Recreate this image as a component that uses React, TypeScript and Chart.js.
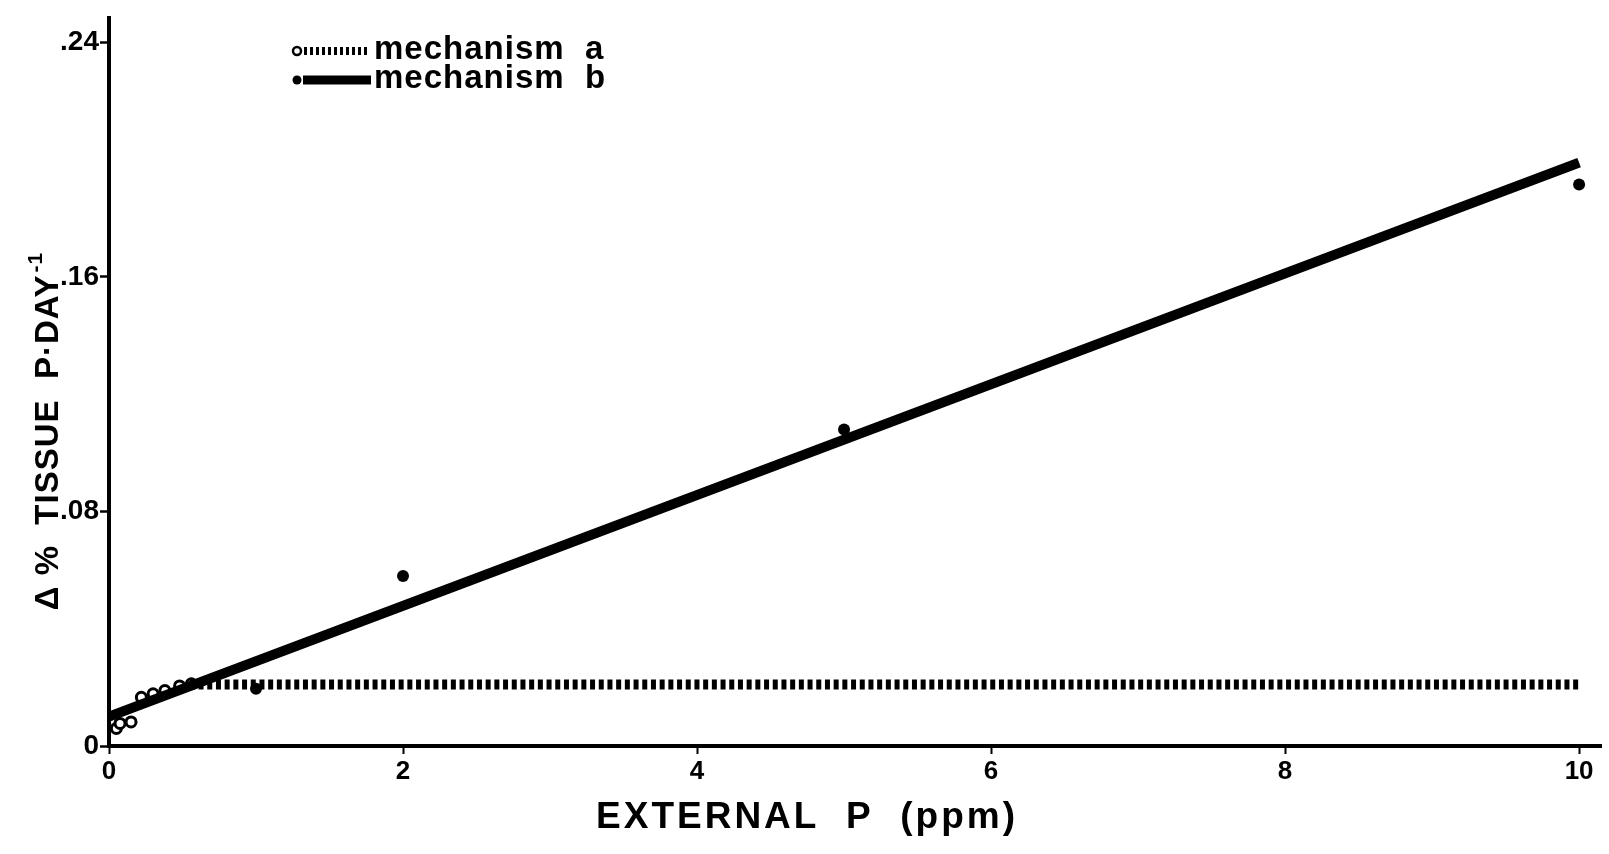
import React, { useEffect, useRef } from "react";
import { Chart, registerables } from "chart.js";

Chart.register(...registerables);

// ---- data ----
const xTickValues = [0, 2, 4, 6, 8, 10];
const xTickLabels = ["0", "2", "4", "6", "8", "10"];
const yTickValues = [0, 0.08, 0.16, 0.24];
const yTickLabels = ["0", ".08", ".16", ".24"];

// mechanism a: open-circle observations and the dotted plateau curve
const aPointX = [0.05, 0.075, 0.15, 0.22, 0.3, 0.38, 0.48, 0.56];
const aPointY = [0.006, 0.0077, 0.0082, 0.0166, 0.0178, 0.0189, 0.0205, 0.0212];
const aLineX = [0.55, 10];
const aLineY = [0.021, 0.021];

// mechanism b: filled-dot observations and the straight fitted line
const bPointX = [1, 2, 5, 10];
const bPointY = [0.0195, 0.058, 0.108, 0.1915];
const bLineX = [0, 10];
const bLineY = [0.01, 0.199];

const legendLabels = ["mechanism  a", "mechanism  b"];
const xTitle = "EXTERNAL  P  (ppm)";
const yTitleMain = "Δ %  TISSUE  P·DAY";
const yTitleSup = "-1";

const zip = (xs: number[], ys: number[]) => xs.map((x, i) => ({ x, y: ys[i] }));

const FONT = "'Liberation Sans', Arial, sans-serif";

const textPlugin = {
  id: "customText",
  afterDraw(chart: any) {
    const ctx = chart.ctx as CanvasRenderingContext2D;
    ctx.save();
    ctx.fillStyle = "#000";
    ctx.strokeStyle = "#000";

    // legend row a
    ctx.lineWidth = 2.5;
    ctx.beginPath();
    ctx.arc(297, 51, 4, 0, Math.PI * 2);
    ctx.stroke();
    ctx.lineWidth = 8;
    ctx.setLineDash([3, 3]);
    ctx.beginPath();
    ctx.moveTo(304, 51);
    ctx.lineTo(370, 51);
    ctx.stroke();
    ctx.setLineDash([]);
    // legend row b
    ctx.beginPath();
    ctx.arc(297, 80, 4.5, 0, Math.PI * 2);
    ctx.fill();
    ctx.lineWidth = 9;
    ctx.beginPath();
    ctx.moveTo(303, 80);
    ctx.lineTo(371, 80);
    ctx.stroke();

    ctx.font = `bold 33px ${FONT}`;
    ctx.textAlign = "left";
    ctx.textBaseline = "alphabetic";
    (ctx as any).letterSpacing = "1px";
    ctx.fillText(legendLabels[0], 374, 59);
    ctx.fillText(legendLabels[1], 374, 88);

    // x axis title
    ctx.font = `bold 37px ${FONT}`;
    (ctx as any).letterSpacing = "3px";
    ctx.textAlign = "center";
    ctx.textBaseline = "middle";
    ctx.fillText(xTitle, 807, 818);

    // y axis title (rotated)
    ctx.translate(49, 431);
    ctx.rotate(-Math.PI / 2);
    ctx.font = `bold 33px ${FONT}`;
    (ctx as any).letterSpacing = "1px";
    const mainW = ctx.measureText(yTitleMain).width;
    ctx.font = `bold 21px ${FONT}`;
    const supW = ctx.measureText(yTitleSup).width;
    const total = mainW + supW + 2;
    ctx.textAlign = "left";
    ctx.font = `bold 33px ${FONT}`;
    ctx.fillText(yTitleMain, -total / 2, 0);
    ctx.font = `bold 21px ${FONT}`;
    ctx.fillText(yTitleSup, -total / 2 + mainW + 2, -13);
    ctx.restore();
  },
};

export default function App() {
  const ref = useRef<HTMLCanvasElement | null>(null);

  useEffect(() => {
    if (!ref.current) return;
    const chart = new Chart(ref.current, {
      type: "scatter",
      data: {
        datasets: [
          {
            label: "mechanism b line",
            data: zip(bLineX, bLineY),
            showLine: true,
            borderColor: "#000",
            borderWidth: 10,
            borderCapStyle: "butt",
            pointRadius: 0,
            clip: false,
          } as any,
          {
            label: "mechanism a line",
            data: zip(aLineX, aLineY),
            showLine: true,
            borderColor: "#000",
            borderWidth: 10,
            borderDash: [5, 3.7],
            borderCapStyle: "butt",
            pointRadius: 0,
            clip: false,
          } as any,
          {
            label: "mechanism a",
            data: zip(aPointX, aPointY),
            showLine: false,
            pointStyle: "circle",
            pointRadius: 5,
            pointBorderWidth: 3,
            pointBorderColor: "#000",
            pointBackgroundColor: "#fff",
            clip: false,
          } as any,
          {
            label: "mechanism b",
            data: zip(bPointX, bPointY),
            showLine: false,
            pointStyle: "circle",
            pointRadius: 6,
            pointBorderWidth: 0,
            pointBackgroundColor: "#000",
            clip: false,
          } as any,
        ],
      },
      options: {
        responsive: false,
        animation: false,
        layout: { padding: { top: 8, right: 4, left: 0, bottom: 0 } },
        plugins: {
          legend: { display: false },
          tooltip: { enabled: false },
        },
        scales: {
          x: {
            type: "linear",
            min: 0,
            max: 10.149,
            afterFit: (s: any) => {
              s.height = 108;
            },
            afterBuildTicks: (s: any) => {
              s.ticks = xTickValues.map((v) => ({ value: v }));
            },
            ticks: {
              callback: (v: any) => {
                const i = xTickValues.indexOf(Number(v));
                return i >= 0 ? xTickLabels[i] : "";
              },
              color: "#000",
              font: { family: FONT, size: 26, weight: "bold" },
              padding: 2,
              maxRotation: 0,
            },
            grid: {
              display: true,
              drawOnChartArea: false,
              drawTicks: true,
              tickLength: 8,
              tickWidth: 2,
              tickColor: "#000",
            },
            border: { display: true, color: "#000", width: 4 },
          },
          y: {
            type: "linear",
            min: 0,
            max: 0.2484,
            afterFit: (s: any) => {
              s.width = 109;
            },
            afterBuildTicks: (s: any) => {
              s.ticks = yTickValues.map((v) => ({ value: v }));
            },
            ticks: {
              callback: (v: any) => {
                const i = yTickValues.findIndex((t) => Math.abs(t - Number(v)) < 1e-9);
                return i >= 0 ? yTickLabels[i] : "";
              },
              color: "#000",
              font: { family: FONT, size: 28, weight: "bold" },
              padding: 1,
            },
            grid: {
              display: true,
              drawOnChartArea: false,
              drawTicks: true,
              tickLength: 9,
              tickWidth: 2.5,
              tickColor: "#000",
            },
            border: { display: true, color: "#000", width: 4 },
          },
        },
      },
      plugins: [textPlugin],
    });
    return () => chart.destroy();
  }, []);

  return (
    <div style={{ position: "fixed", left: 0, top: 0, width: 1609, height: 854, background: "#fff" }}>
      <canvas ref={ref} width={1609} height={854} style={{ display: "block" }} />
    </div>
  );
}
